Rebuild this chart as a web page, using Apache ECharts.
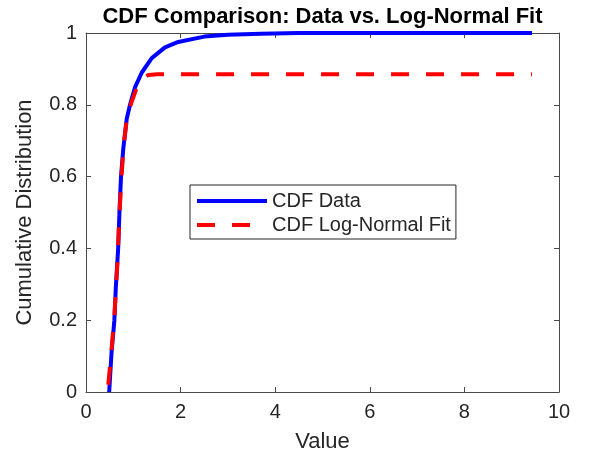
<!DOCTYPE html>
<html>
<head>
<meta charset="utf-8">
<script src="https://cdn.jsdelivr.net/npm/echarts@6/dist/echarts.min.js"></script>
<style>html,body{margin:0;padding:0;background:#fff;}#c{width:589px;height:461px;}</style>
</head>
<body>
<div id="c"></div>
<script>
const dataX = [0.49, 0.54, 0.60, 0.63, 0.68, 0.71, 0.74, 0.79, 0.86, 0.93, 1.04, 1.18, 1.39, 1.67, 1.95, 2.5, 3.0, 3.7, 4.5, 9.43];
const dataY = [0.00, 0.11, 0.20, 0.29, 0.40, 0.51, 0.60, 0.68, 0.76, 0.80, 0.85, 0.89, 0.93, 0.96, 0.975, 0.99, 0.995, 0.998, 1.0, 1.0];
// Log-normal fit CDF
const fitX = [0.47, 0.50, 0.54, 0.60, 0.66, 0.71, 0.75, 0.80, 0.87, 0.97, 1.08, 1.20, 1.32, 1.50, 9.43];
const fitY = [0.02, 0.06, 0.12, 0.21, 0.35, 0.50, 0.60, 0.69, 0.77, 0.81, 0.85, 0.875, 0.883, 0.885, 0.885];
const seriesNames = ['CDF Data', 'CDF Log-Normal Fit'];
const xTicks = [0, 2, 4, 6, 8, 10];
const yTicks = [0, 0.2, 0.4, 0.6, 0.8, 1];
const titleText = 'CDF Comparison: Data vs. Log-Normal Fit';
const xName = 'Value';
const yName = 'Cumulative Distribution';

const pair = (xs, ys) => xs.map((x, i) => [x, ys[i]]);
const FONT = 'Arial, "Liberation Sans", sans-serif';
const AX = '#262626';
const LINE = '#4a4a4a';

const chart = echarts.init(document.getElementById('c'), null, {renderer: 'canvas'});
const baseX = {
  type: 'value', min: xTicks[0], max: xTicks[xTicks.length - 1], interval: xTicks[1] - xTicks[0],
  axisLine: {show: true, onZero: false, lineStyle: {color: LINE, width: 1}},
  axisTick: {show: true, inside: true, length: 5, lineStyle: {color: LINE}},
  splitLine: {show: false}
};
const baseY = {
  type: 'value', min: yTicks[0], max: yTicks[yTicks.length - 1], interval: 0.2,
  axisLine: {show: true, onZero: false, lineStyle: {color: LINE, width: 1}},
  axisTick: {show: true, inside: true, length: 5, lineStyle: {color: LINE}},
  splitLine: {show: false}
};
chart.setOption({
  animation: false,
  backgroundColor: '#fff',
  title: {
    text: titleText, left: 322.5, top: 6, padding: 0, textAlign: 'center',
    textStyle: {fontFamily: FONT, fontSize: 22, fontWeight: 'bold', color: '#000'}
  },
  grid: {left: 86, right: 30, top: 33, bottom: 69, containLabel: false},
  legend: {
    orient: 'vertical', left: 190, top: 185, padding: [6, 5, 4, 5], itemGap: 4,
    itemWidth: 70, itemHeight: 20, data: seriesNames,
    borderColor: AX, borderWidth: 1, backgroundColor: '#fff',
    itemStyle: {opacity: 0},
    lineStyle: {width: 4},
    textStyle: {fontFamily: FONT, fontSize: 20, color: AX, lineHeight: 20}
  },
  xAxis: [
    Object.assign({}, baseX, {
      position: 'bottom', name: xName, nameLocation: 'middle', nameGap: 39,
      nameTextStyle: {fontFamily: FONT, fontSize: 22, color: AX},
      axisLabel: {fontFamily: FONT, fontSize: 20, color: AX, margin: 10}
    }),
    Object.assign({}, baseX, {position: 'top', axisLabel: {show: false}})
  ],
  yAxis: [
    Object.assign({}, baseY, {
      position: 'left', name: yName, nameLocation: 'middle', nameGap: 50,
      nameTextStyle: {fontFamily: FONT, fontSize: 22, color: AX},
      axisLabel: {fontFamily: FONT, fontSize: 20, color: AX, margin: 9}
    }),
    Object.assign({}, baseY, {position: 'right', axisLabel: {show: false}})
  ],
  series: [
    {
      name: seriesNames[0], type: 'line', xAxisIndex: 0, yAxisIndex: 0,
      data: pair(dataX, dataY), symbol: 'none', smooth: false, z: 2,
      lineStyle: {color: '#0000ff', width: 4}, itemStyle: {color: '#0000ff'}
    },
    {
      name: seriesNames[1], type: 'line', xAxisIndex: 0, yAxisIndex: 0,
      data: pair(fitX, fitY), symbol: 'none', smooth: false, z: 3,
      lineStyle: {color: '#ff0000', width: 4, type: [18, 17]}, itemStyle: {color: '#ff0000'}
    }
  ]
});
</script>
</body>
</html>
